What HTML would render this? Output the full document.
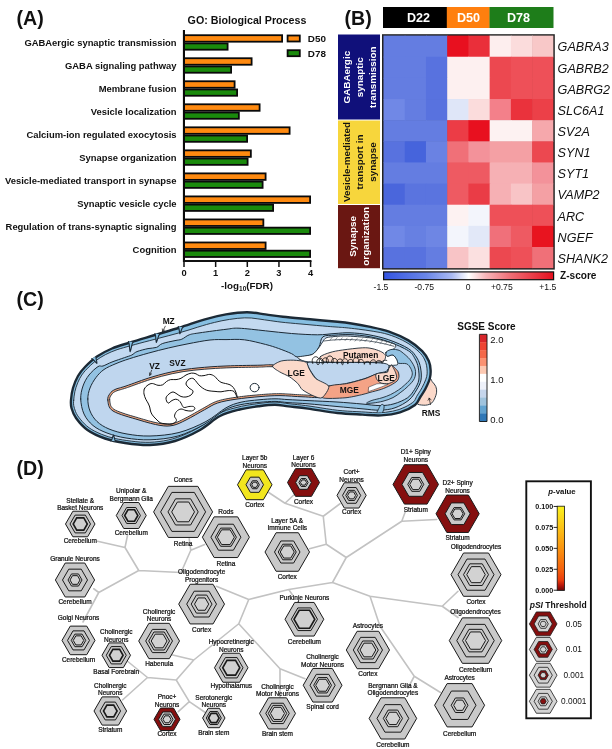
<!DOCTYPE html>
<html lang="en"><head><meta charset="utf-8"><title>Figure</title>
<style>html,body{margin:0;padding:0;background:#fff}svg{display:block}text{white-space:pre}</style>
</head><body>
<svg width="612" height="749" viewBox="0 0 612 749">
<rect width="612" height="749" fill="#fff"/>
<g id="panelA" font-family="'Liberation Sans', Arial, sans-serif" font-weight="bold" fill="#111">
<text x="16.6" y="25" font-size="19.6">(A)</text>
<text x="247" y="24.2" font-size="10.7" text-anchor="middle">GO: Biological Process</text>
<text x="176.5" y="45.9" font-size="9.42" text-anchor="end">GABAergic synaptic transmission</text>
<rect x="184" y="35.2" width="98.1" height="6.5" fill="#ff8a10" stroke="#0a0a0a" stroke-width="1.8"/>
<rect x="184" y="43.4" width="43.6" height="6.3" fill="#1a8a0c" stroke="#0a0a0a" stroke-width="1.8"/>
<text x="176.5" y="68.9" font-size="9.42" text-anchor="end">GABA signaling pathway</text>
<rect x="184" y="58.23" width="67.6" height="6.5" fill="#ff8a10" stroke="#0a0a0a" stroke-width="1.8"/>
<rect x="184" y="66.43" width="47.1" height="6.3" fill="#1a8a0c" stroke="#0a0a0a" stroke-width="1.8"/>
<text x="176.5" y="91.9" font-size="9.42" text-anchor="end">Membrane fusion</text>
<rect x="184" y="81.26" width="50.6" height="6.5" fill="#ff8a10" stroke="#0a0a0a" stroke-width="1.8"/>
<rect x="184" y="89.46" width="53.1" height="6.3" fill="#1a8a0c" stroke="#0a0a0a" stroke-width="1.8"/>
<text x="176.5" y="114.9" font-size="9.42" text-anchor="end">Vesicle localization</text>
<rect x="184" y="104.29" width="75.6" height="6.5" fill="#ff8a10" stroke="#0a0a0a" stroke-width="1.8"/>
<rect x="184" y="112.49" width="54.85" height="6.3" fill="#1a8a0c" stroke="#0a0a0a" stroke-width="1.8"/>
<text x="176.5" y="137.9" font-size="9.42" text-anchor="end">Calcium-ion regulated exocytosis</text>
<rect x="184" y="127.32" width="105.6" height="6.5" fill="#ff8a10" stroke="#0a0a0a" stroke-width="1.8"/>
<rect x="184" y="135.52" width="63.1" height="6.3" fill="#1a8a0c" stroke="#0a0a0a" stroke-width="1.8"/>
<text x="176.5" y="160.9" font-size="9.42" text-anchor="end">Synapse organization</text>
<rect x="184" y="150.35" width="66.85" height="6.5" fill="#ff8a10" stroke="#0a0a0a" stroke-width="1.8"/>
<rect x="184" y="158.55" width="63.6" height="6.3" fill="#1a8a0c" stroke="#0a0a0a" stroke-width="1.8"/>
<text x="176.5" y="183.9" font-size="9.42" text-anchor="end">Vesicle-mediated transport in synapse</text>
<rect x="184" y="173.38" width="81.6" height="6.5" fill="#ff8a10" stroke="#0a0a0a" stroke-width="1.8"/>
<rect x="184" y="181.58" width="78.6" height="6.3" fill="#1a8a0c" stroke="#0a0a0a" stroke-width="1.8"/>
<text x="176.5" y="206.9" font-size="9.42" text-anchor="end">Synaptic vesicle cycle</text>
<rect x="184" y="196.41" width="126.1" height="6.5" fill="#ff8a10" stroke="#0a0a0a" stroke-width="1.8"/>
<rect x="184" y="204.61" width="89.1" height="6.3" fill="#1a8a0c" stroke="#0a0a0a" stroke-width="1.8"/>
<text x="176.5" y="229.9" font-size="9.42" text-anchor="end">Regulation of trans-synaptic signaling</text>
<rect x="184" y="219.44" width="79.35" height="6.5" fill="#ff8a10" stroke="#0a0a0a" stroke-width="1.8"/>
<rect x="184" y="227.64" width="126.1" height="6.3" fill="#1a8a0c" stroke="#0a0a0a" stroke-width="1.8"/>
<text x="176.5" y="252.9" font-size="9.42" text-anchor="end">Cognition</text>
<rect x="184" y="242.47" width="81.6" height="6.5" fill="#ff8a10" stroke="#0a0a0a" stroke-width="1.8"/>
<rect x="184" y="250.67" width="126.1" height="6.3" fill="#1a8a0c" stroke="#0a0a0a" stroke-width="1.8"/>
<rect x="182.9" y="30" width="2.1" height="232" fill="#0a0a0a"/>
<rect x="183" y="260" width="128.5" height="2" fill="#111"/>
<rect x="183.25" y="261" width="1.5" height="6" fill="#111"/>
<text x="184" y="276.1" font-size="9.3" text-anchor="middle">0</text>
<rect x="214.9" y="261" width="1.5" height="6" fill="#111"/>
<text x="215.65" y="276.1" font-size="9.3" text-anchor="middle">1</text>
<rect x="246.55" y="261" width="1.5" height="6" fill="#111"/>
<text x="247.3" y="276.1" font-size="9.3" text-anchor="middle">2</text>
<rect x="278.2" y="261" width="1.5" height="6" fill="#111"/>
<text x="278.95" y="276.1" font-size="9.3" text-anchor="middle">3</text>
<rect x="309.85" y="261" width="1.5" height="6" fill="#111"/>
<text x="310.6" y="276.1" font-size="9.3" text-anchor="middle">4</text>
<text x="247" y="288.5" font-size="9.8" text-anchor="middle">-log<tspan font-size="6.5" dy="2">10</tspan><tspan dy="-2">(FDR)</tspan></text>
<rect x="287.6" y="35.5" width="12.2" height="6" fill="#ff8a10" stroke="#0a0a0a" stroke-width="1.8"/>
<rect x="287.6" y="50.2" width="12.2" height="6" fill="#1a8a0c" stroke="#0a0a0a" stroke-width="1.8"/>
<text x="307.8" y="42.1" font-size="9.9">D50</text>
<text x="307.8" y="56.8" font-size="9.9">D78</text>
</g>
<g id="panelB" font-family="'Liberation Sans', Arial, sans-serif">
<text x="344.6" y="25" font-size="19.6" font-weight="bold" fill="#111">(B)</text>
<rect x="383" y="7" width="64" height="21" fill="#000"/>
<rect x="446.8" y="7" width="43" height="21" fill="#ff7f0e"/>
<rect x="489.5" y="7" width="64" height="21" fill="#1e7d1a"/>
<text x="418.5" y="22.3" font-size="12.6" font-weight="bold" fill="#fff" text-anchor="middle">D22</text>
<text x="468.5" y="22.3" font-size="12.6" font-weight="bold" fill="#fff" text-anchor="middle">D50</text>
<text x="518.5" y="22.3" font-size="12.6" font-weight="bold" fill="#fff" text-anchor="middle">D78</text>
<rect x="382" y="34.2" width="172.8" height="235.4" fill="#222"/>
<rect x="383.5" y="35.6" width="21.83" height="21.74" fill="#647de1"/>
<rect x="404.73" y="35.6" width="21.83" height="21.74" fill="#647de1"/>
<rect x="425.96" y="35.6" width="21.83" height="21.74" fill="#647de1"/>
<rect x="447.19" y="35.6" width="21.83" height="21.74" fill="#e8101f"/>
<rect x="468.42" y="35.6" width="21.83" height="21.74" fill="#ea2f3a"/>
<rect x="489.65" y="35.6" width="21.83" height="21.74" fill="#fdeeee"/>
<rect x="510.88" y="35.6" width="21.83" height="21.74" fill="#fbdcdc"/>
<rect x="532.11" y="35.6" width="21.23" height="21.74" fill="#f8c8c8"/>
<rect x="383.5" y="56.74" width="21.83" height="21.74" fill="#647de1"/>
<rect x="404.73" y="56.74" width="21.83" height="21.74" fill="#647de1"/>
<rect x="425.96" y="56.74" width="21.83" height="21.74" fill="#5872df"/>
<rect x="447.19" y="56.74" width="21.83" height="21.74" fill="#fdf0f0"/>
<rect x="468.42" y="56.74" width="21.83" height="21.74" fill="#fdf0f0"/>
<rect x="489.65" y="56.74" width="21.83" height="21.74" fill="#ec4850"/>
<rect x="510.88" y="56.74" width="21.83" height="21.74" fill="#ee5058"/>
<rect x="532.11" y="56.74" width="21.23" height="21.74" fill="#ee5058"/>
<rect x="383.5" y="77.88" width="21.83" height="21.74" fill="#647de1"/>
<rect x="404.73" y="77.88" width="21.83" height="21.74" fill="#647de1"/>
<rect x="425.96" y="77.88" width="21.83" height="21.74" fill="#5872df"/>
<rect x="447.19" y="77.88" width="21.83" height="21.74" fill="#fdf0f0"/>
<rect x="468.42" y="77.88" width="21.83" height="21.74" fill="#fdf0f0"/>
<rect x="489.65" y="77.88" width="21.83" height="21.74" fill="#ec4850"/>
<rect x="510.88" y="77.88" width="21.83" height="21.74" fill="#ee5058"/>
<rect x="532.11" y="77.88" width="21.23" height="21.74" fill="#ee5058"/>
<rect x="383.5" y="99.02" width="21.83" height="21.74" fill="#7088e6"/>
<rect x="404.73" y="99.02" width="21.83" height="21.74" fill="#647de1"/>
<rect x="425.96" y="99.02" width="21.83" height="21.74" fill="#5872df"/>
<rect x="447.19" y="99.02" width="21.83" height="21.74" fill="#dfe6f8"/>
<rect x="468.42" y="99.02" width="21.83" height="21.74" fill="#fbdcdc"/>
<rect x="489.65" y="99.02" width="21.83" height="21.74" fill="#f3808a"/>
<rect x="510.88" y="99.02" width="21.83" height="21.74" fill="#ea323c"/>
<rect x="532.11" y="99.02" width="21.23" height="21.74" fill="#ec4048"/>
<rect x="383.5" y="120.16" width="21.83" height="21.74" fill="#647de1"/>
<rect x="404.73" y="120.16" width="21.83" height="21.74" fill="#647de1"/>
<rect x="425.96" y="120.16" width="21.83" height="21.74" fill="#647de1"/>
<rect x="447.19" y="120.16" width="21.83" height="21.74" fill="#ec3c46"/>
<rect x="468.42" y="120.16" width="21.83" height="21.74" fill="#e8101f"/>
<rect x="489.65" y="120.16" width="21.83" height="21.74" fill="#fdf2f2"/>
<rect x="510.88" y="120.16" width="21.83" height="21.74" fill="#fdf2f2"/>
<rect x="532.11" y="120.16" width="21.23" height="21.74" fill="#f6a8ac"/>
<rect x="383.5" y="141.3" width="21.83" height="21.74" fill="#5872df"/>
<rect x="404.73" y="141.3" width="21.83" height="21.74" fill="#4664dc"/>
<rect x="425.96" y="141.3" width="21.83" height="21.74" fill="#6a82e3"/>
<rect x="447.19" y="141.3" width="21.83" height="21.74" fill="#f07078"/>
<rect x="468.42" y="141.3" width="21.83" height="21.74" fill="#f3929a"/>
<rect x="489.65" y="141.3" width="21.83" height="21.74" fill="#f4a0a4"/>
<rect x="510.88" y="141.3" width="21.83" height="21.74" fill="#f4a0a4"/>
<rect x="532.11" y="141.3" width="21.23" height="21.74" fill="#ec4850"/>
<rect x="383.5" y="162.44" width="21.83" height="21.74" fill="#647de1"/>
<rect x="404.73" y="162.44" width="21.83" height="21.74" fill="#647de1"/>
<rect x="425.96" y="162.44" width="21.83" height="21.74" fill="#647de1"/>
<rect x="447.19" y="162.44" width="21.83" height="21.74" fill="#ee5a62"/>
<rect x="468.42" y="162.44" width="21.83" height="21.74" fill="#ee5a62"/>
<rect x="489.65" y="162.44" width="21.83" height="21.74" fill="#f6b0b4"/>
<rect x="510.88" y="162.44" width="21.83" height="21.74" fill="#f6b0b4"/>
<rect x="532.11" y="162.44" width="21.23" height="21.74" fill="#f3929a"/>
<rect x="383.5" y="183.58" width="21.83" height="21.74" fill="#4a66dc"/>
<rect x="404.73" y="183.58" width="21.83" height="21.74" fill="#5a74df"/>
<rect x="425.96" y="183.58" width="21.83" height="21.74" fill="#5a74df"/>
<rect x="447.19" y="183.58" width="21.83" height="21.74" fill="#ee5a62"/>
<rect x="468.42" y="183.58" width="21.83" height="21.74" fill="#ea3c46"/>
<rect x="489.65" y="183.58" width="21.83" height="21.74" fill="#f6b0b4"/>
<rect x="510.88" y="183.58" width="21.83" height="21.74" fill="#f8c4c6"/>
<rect x="532.11" y="183.58" width="21.23" height="21.74" fill="#f4a0a4"/>
<rect x="383.5" y="204.72" width="21.83" height="21.74" fill="#647de1"/>
<rect x="404.73" y="204.72" width="21.83" height="21.74" fill="#647de1"/>
<rect x="425.96" y="204.72" width="21.83" height="21.74" fill="#647de1"/>
<rect x="447.19" y="204.72" width="21.83" height="21.74" fill="#fdf2f2"/>
<rect x="468.42" y="204.72" width="21.83" height="21.74" fill="#f3f5fc"/>
<rect x="489.65" y="204.72" width="21.83" height="21.74" fill="#ee5058"/>
<rect x="510.88" y="204.72" width="21.83" height="21.74" fill="#ee5058"/>
<rect x="532.11" y="204.72" width="21.23" height="21.74" fill="#ee5058"/>
<rect x="383.5" y="225.86" width="21.83" height="21.74" fill="#7088e6"/>
<rect x="404.73" y="225.86" width="21.83" height="21.74" fill="#6780e2"/>
<rect x="425.96" y="225.86" width="21.83" height="21.74" fill="#6e86e4"/>
<rect x="447.19" y="225.86" width="21.83" height="21.74" fill="#f3f5fc"/>
<rect x="468.42" y="225.86" width="21.83" height="21.74" fill="#e2e8f8"/>
<rect x="489.65" y="225.86" width="21.83" height="21.74" fill="#f0707a"/>
<rect x="510.88" y="225.86" width="21.83" height="21.74" fill="#ee5a62"/>
<rect x="532.11" y="225.86" width="21.23" height="21.74" fill="#e8141f"/>
<rect x="383.5" y="247" width="21.83" height="21.14" fill="#5872df"/>
<rect x="404.73" y="247" width="21.83" height="21.14" fill="#5872df"/>
<rect x="425.96" y="247" width="21.83" height="21.14" fill="#647de1"/>
<rect x="447.19" y="247" width="21.83" height="21.14" fill="#f8c4c6"/>
<rect x="468.42" y="247" width="21.83" height="21.14" fill="#fbe0e0"/>
<rect x="489.65" y="247" width="21.83" height="21.14" fill="#ec4850"/>
<rect x="510.88" y="247" width="21.83" height="21.14" fill="#ee5058"/>
<rect x="532.11" y="247" width="21.23" height="21.14" fill="#f07078"/>
<text x="557.6" y="51.47" font-size="12.6" font-style="italic" fill="#111">GABRA3</text>
<text x="557.6" y="72.61" font-size="12.6" font-style="italic" fill="#111">GABRB2</text>
<text x="557.6" y="93.75" font-size="12.6" font-style="italic" fill="#111">GABRG2</text>
<text x="557.6" y="114.89" font-size="12.6" font-style="italic" fill="#111">SLC6A1</text>
<text x="557.6" y="136.03" font-size="12.6" font-style="italic" fill="#111">SV2A</text>
<text x="557.6" y="157.17" font-size="12.6" font-style="italic" fill="#111">SYN1</text>
<text x="557.6" y="178.31" font-size="12.6" font-style="italic" fill="#111">SYT1</text>
<text x="557.6" y="199.45" font-size="12.6" font-style="italic" fill="#111">VAMP2</text>
<text x="557.6" y="220.59" font-size="12.6" font-style="italic" fill="#111">ARC</text>
<text x="557.6" y="241.73" font-size="12.6" font-style="italic" fill="#111">NGEF</text>
<text x="557.6" y="262.87" font-size="12.6" font-style="italic" fill="#111">SHANK2</text>
<rect x="338" y="34.5" width="42" height="85" fill="#10107a"/>
<rect x="338" y="120.5" width="42" height="83.5" fill="#f7d63c"/>
<rect x="338" y="205" width="42" height="63.2" fill="#6a1712"/>
<g transform="translate(359.5,77.2) rotate(-90)" font-size="9.9" font-weight="bold" fill="#fff" text-anchor="middle"><text x="0" y="-9.63">GABAergic</text><text x="0" y="3.37">synaptic</text><text x="0" y="16.37">transmission</text></g>
<g transform="translate(359.5,162) rotate(-90)" font-size="9.9" font-weight="bold" fill="#111" text-anchor="middle"><text x="0" y="-9.63">Vesicle-mediated</text><text x="0" y="3.37">transport in</text><text x="0" y="16.37">synapse</text></g>
<g transform="translate(359.5,236.4) rotate(-90)" font-size="9.9" font-weight="bold" fill="#fff" text-anchor="middle"><text x="0" y="-3.13">Synapse</text><text x="0" y="9.87">organization</text></g>
<defs><linearGradient id="zg" x1="0" x2="1" y1="0" y2="0"><stop offset="0" stop-color="#3454e0"/><stop offset="0.25" stop-color="#6a86e8"/><stop offset="0.4" stop-color="#a9b9f2"/><stop offset="0.5" stop-color="#ffffff"/><stop offset="0.6" stop-color="#f7b6ba"/><stop offset="0.75" stop-color="#ef6c74"/><stop offset="1" stop-color="#e50f1e"/></linearGradient></defs>
<rect x="383.6" y="271.9" width="170" height="7.8" fill="url(#zg)" stroke="#111" stroke-width="1.2"/>
<text x="560" y="278.6" font-size="10.1" font-weight="bold" fill="#111">Z-score</text>
<text x="381" y="290" font-size="8.6" fill="#111" text-anchor="middle">-1.5</text>
<text x="424.3" y="290" font-size="8.6" fill="#111" text-anchor="middle">-0.75</text>
<text x="468.2" y="290" font-size="8.6" fill="#111" text-anchor="middle">0</text>
<text x="501.8" y="290" font-size="8.6" fill="#111" text-anchor="middle">+0.75</text>
<text x="547.8" y="290" font-size="8.6" fill="#111" text-anchor="middle">+1.5</text>
</g>
<g id="panelC" font-family="'Liberation Sans', Arial, sans-serif" stroke-linejoin="round" stroke-linecap="round">
<text x="16.6" y="305.8" font-size="19.6" font-weight="bold" fill="#111">(C)</text>
<path d="M429.3,379.4C431.2,377.22 431.32,380.72 432.4,381.9C433.48,383.08 435.1,384.78 435.8,386.5C436.5,388.22 436.83,390.1 436.6,392.2C436.37,394.3 435.4,397.17 434.4,399.1C433.4,401.03 432.37,402.78 430.6,403.8C428.83,404.82 426.15,405.32 423.8,405.2C421.45,405.08 416.97,404.8 416.5,403.1C416.03,401.4 418.87,398.95 421,395C423.13,391.05 427.4,381.58 429.3,379.4Z" fill="#fbd9ca" stroke="#1c2a36" stroke-width="0.9"/>
<path d="M71,400C71.25,396.67 71.83,392 73,388C74.17,384 76,379.5 78,376C80,372.5 81.83,370.25 85,367C88.17,363.75 92.5,359.58 97,356.5C101.5,353.42 106.5,350.83 112,348.5C117.5,346.17 122.83,344.75 130,342.5C137.17,340.25 146.67,337.5 155,335C163.33,332.5 171.67,330.12 180,327.5C188.33,324.88 197.33,321.48 205,319.3C212.67,317.12 219,315.57 226,314.4C233,313.23 240.43,312.3 247,312.3C253.57,312.3 259.4,313.65 265.4,314.4C271.4,315.15 275.57,315.98 283,316.8C290.43,317.62 300.92,318.47 310,319.3C319.08,320.13 330.83,321.13 337.5,321.8C344.17,322.47 344.75,322.48 350,323.3C355.25,324.12 362.5,325.32 369,326.7C375.5,328.08 382.43,329.32 389,331.6C395.57,333.88 402.87,337.13 408.4,340.4C413.93,343.67 418.8,347.77 422.2,351.2C425.6,354.63 427.4,357.87 428.8,361C430.2,364.13 430.43,367.08 430.6,370C430.77,372.92 430.68,375.33 429.8,378.5C428.92,381.67 426.88,385.92 425.3,389C423.72,392.08 422.02,394.33 420.3,397C418.58,399.67 418.38,402.43 415,405C411.62,407.57 405.67,410.67 400,412.4C394.33,414.13 387.25,415.03 381,415.4C374.75,415.77 369.75,415 362.5,414.6C355.25,414.2 346.58,414 337.5,413C328.42,412 316.15,409.7 308,408.6C299.85,407.5 294.1,407.03 288.6,406.4C283.1,405.77 279.93,404.83 275,404.8C270.07,404.77 264.9,405.42 259,406.2C253.1,406.98 246.1,407.87 239.6,409.5C233.1,411.13 226.6,412.58 220,416C213.4,419.42 207.5,425.83 200,430C192.5,434.17 183.33,438.5 175,441C166.67,443.5 158.33,444.67 150,445C141.67,445.33 132.5,444.08 125,443C117.5,441.92 111.25,440.67 105,438.5C98.75,436.33 92.33,433.42 87.5,430C82.67,426.58 78.67,421.67 76,418C73.33,414.33 72.33,411 71.5,408C70.67,405 70.75,403.33 71,400Z" fill="#86bfe2" stroke="#1c2a36" stroke-width="2.4"/>
<path d="M73.69,400.22C73.79,399.04 73.91,397.58 74.11,396.15C74.31,394.73 74.55,393.14 74.87,391.66C75.19,390.19 75.57,388.77 76.04,387.31C76.51,385.84 77.08,384.3 77.68,382.85C78.28,381.4 78.97,379.9 79.65,378.61C80.33,377.31 81.02,376.16 81.74,375.07C82.46,373.99 83.12,373.12 83.99,372.09C84.85,371.06 85.79,370.06 86.94,368.88C88.08,367.71 89.44,366.34 90.84,365.04C92.25,363.74 93.8,362.33 95.36,361.09C96.91,359.86 98.5,358.72 100.18,357.64C101.85,356.57 103.59,355.59 105.41,354.64C107.23,353.7 109.16,352.8 111.11,351.96C113.06,351.13 115.05,350.36 117.12,349.65C119.19,348.94 121.21,348.38 123.52,347.71C125.83,347.04 128.24,346.38 130.96,345.63C133.69,344.88 136.76,344.03 139.88,343.2C143,342.36 146.45,341.48 149.69,340.63C152.93,339.78 156.14,338.93 159.32,338.1C162.51,337.27 165.63,336.47 168.79,335.64C171.95,334.8 175.11,333.98 178.3,333.09C181.5,332.19 184.75,331.24 187.96,330.26C191.17,329.28 194.5,328.16 197.59,327.2C200.69,326.25 203.71,325.32 206.53,324.53C209.34,323.73 211.93,323.06 214.5,322.43C217.07,321.8 219.44,321.25 221.93,320.74C224.43,320.24 226.93,319.8 229.48,319.41C232.03,319.02 234.71,318.64 237.24,318.38C239.77,318.12 242.31,317.9 244.66,317.84C247.01,317.78 249.15,317.84 251.35,318C253.56,318.17 255.66,318.54 257.87,318.85C260.09,319.15 262.47,319.54 264.64,319.85C266.8,320.16 268.75,320.42 270.85,320.72C272.95,321.01 274.82,321.33 277.24,321.64C279.66,321.95 282.34,322.27 285.36,322.58C288.38,322.89 291.94,323.21 295.39,323.52C298.84,323.84 302.49,324.15 306.05,324.46C309.6,324.78 313.08,325.1 316.7,325.43C320.32,325.75 324.39,326.12 327.77,326.4C331.15,326.68 334.54,326.91 336.99,327.09C339.43,327.27 340.94,327.35 342.45,327.46C343.96,327.57 344.6,327.61 346.07,327.76C347.55,327.9 349.27,328.09 351.31,328.32C353.34,328.55 355.86,328.83 358.27,329.13C360.67,329.43 363.26,329.77 365.75,330.13C368.23,330.49 370.7,330.88 373.19,331.29C375.68,331.7 378.22,332.07 380.7,332.59C383.17,333.12 385.57,333.68 388.03,334.43C390.5,335.18 393.03,336.1 395.47,337.09C397.92,338.08 400.47,339.23 402.73,340.37C404.98,341.51 407.03,342.69 408.98,343.93C410.93,345.18 412.76,346.53 414.42,347.85C416.08,349.17 417.67,350.58 418.97,351.86C420.28,353.14 421.35,354.35 422.25,355.54C423.14,356.72 423.75,357.86 424.33,358.99C424.92,360.12 425.39,361.25 425.76,362.29C426.12,363.34 426.34,364.27 426.54,365.25C426.74,366.22 426.86,367.16 426.96,368.15C427.06,369.14 427.13,370.22 427.15,371.17C427.18,372.12 427.18,372.97 427.11,373.86C427.03,374.76 426.93,375.55 426.69,376.55C426.45,377.54 426.12,378.62 425.67,379.81C425.22,381 424.59,382.43 424.01,383.69C423.43,384.95 422.79,386.26 422.2,387.37C421.62,388.48 421.09,389.38 420.51,390.34C419.92,391.3 419.32,392.13 418.68,393.13C418.04,394.13 417.24,395.3 416.67,396.35C416.1,397.39 415.73,398.51 415.25,399.38C414.76,400.25 414.58,400.77 413.76,401.57C412.93,402.36 411.76,403.22 410.3,404.14C408.84,405.05 406.89,406.16 405.02,407.06C403.16,407.95 401.18,408.81 399.11,409.5C397.05,410.19 394.9,410.73 392.63,411.2C390.37,411.66 387.86,412.03 385.53,412.3C383.2,412.56 380.86,412.74 378.66,412.79C376.45,412.84 374.51,412.71 372.29,412.59C370.06,412.47 367.85,412.23 365.3,412.07C362.74,411.91 359.88,411.78 356.94,411.63C354.01,411.47 350.86,411.36 347.67,411.15C344.48,410.93 341.29,410.71 337.8,410.32C334.31,409.92 330.5,409.35 326.73,408.79C322.96,408.23 318.74,407.48 315.18,406.94C311.63,406.4 308.33,405.92 305.4,405.54C302.46,405.15 300,404.91 297.6,404.64C295.19,404.38 293.04,404.19 290.98,403.95C288.92,403.71 287.01,403.46 285.24,403.22C283.47,402.97 282.05,402.66 280.34,402.47C278.64,402.29 276.9,402.12 275.03,402.1C273.16,402.08 271.13,402.19 269.12,402.33C267.11,402.47 265.1,402.72 262.97,402.97C260.85,403.21 258.69,403.51 256.38,403.82C254.06,404.14 251.58,404.46 249.09,404.87C246.61,405.28 243.99,405.74 241.48,406.28C238.97,406.83 236.53,407.44 234.03,408.11C231.54,408.79 229.05,409.41 226.5,410.32C223.94,411.24 221.28,412.23 218.72,413.62C216.16,415.01 213.62,416.89 211.13,418.67C208.65,420.45 206.36,422.57 203.81,424.33C201.26,426.08 198.69,427.63 195.84,429.19C192.99,430.74 189.8,432.29 186.71,433.66C183.62,435.03 180.38,436.37 177.28,437.43C174.19,438.48 171.2,439.31 168.16,440C165.12,440.69 162.08,441.18 159.04,441.57C156,441.95 152.99,442.21 149.92,442.3C146.84,442.39 143.7,442.3 140.59,442.11C137.47,441.91 134.22,441.5 131.24,441.14C128.25,440.77 125.36,440.35 122.67,439.92C119.98,439.48 117.53,439.06 115.11,438.52C112.69,437.98 110.45,437.41 108.15,436.69C105.85,435.98 103.56,435.15 101.33,434.24C99.1,433.33 96.81,432.3 94.76,431.23C92.72,430.15 90.81,429.05 89.07,427.8C87.33,426.56 85.8,425.18 84.34,423.75C82.89,422.33 81.5,420.67 80.34,419.24C79.18,417.82 78.15,416.45 77.35,415.19C76.56,413.94 76.04,412.84 75.55,411.7C75.06,410.56 74.72,409.41 74.41,408.37C74.1,407.34 73.84,406.36 73.7,405.5C73.55,404.64 73.53,404.09 73.53,403.21C73.53,402.33 73.59,401.39 73.69,400.22Z" fill="#c3d9f0" stroke="#1c2a36" stroke-width="0.9"/>
<path d="M80.7,399C80.53,394.33 81.62,390 83,386C84.38,382 86.5,378.23 89,375C91.5,371.77 95.67,368.1 98,366.6C100.33,365.1 100.67,366.77 103,366C105.33,365.23 108.4,363.4 112,362C115.6,360.6 121.3,358.77 124.6,357.6C127.9,356.43 129.73,356 131.8,355C133.87,354 134.3,352.67 137,351.6C139.7,350.53 144.75,349.3 148,348.6C151.25,347.9 154.12,348.23 156.5,347.4C158.88,346.57 159.22,344.73 162.3,343.6C165.38,342.47 171.75,341.33 175,340.6C178.25,339.87 179.42,340.17 181.8,339.2C184.18,338.23 186.27,335.87 189.3,334.8C192.33,333.73 193.88,333.72 200,332.8C206.12,331.88 219.5,330.07 226,329.3C232.5,328.53 232.43,327.95 239,328.2C245.57,328.45 256.65,329.92 265.4,330.8C274.15,331.68 282.8,332.83 291.5,333.5C300.2,334.17 310.35,334.8 317.6,334.8C324.85,334.8 329.6,333.83 335,333.5C340.4,333.17 344.33,332.58 350,332.8C355.67,333.02 362.53,333.63 369,334.8C375.47,335.97 382.23,337.5 388.8,339.8C395.37,342.1 403.7,345.57 408.4,348.6C413.1,351.63 414.97,354.77 417,358C419.03,361.23 419.93,364.33 420.6,368C421.27,371.67 421.68,376.33 421,380C420.32,383.67 418.5,386.67 416.5,390C414.5,393.33 412.58,397.03 409,400C405.42,402.97 399.83,406.1 395,407.8C390.17,409.5 385.5,410.03 380,410.2C374.5,410.37 369.17,409.42 362,408.8C354.83,408.18 346,407.33 337,406.5C328,405.67 316.17,404.45 308,403.8C299.83,403.15 293.5,403 288,402.6C282.5,402.2 279.83,401.43 275,401.4C270.17,401.37 264.83,401.83 259,402.4C253.17,402.97 245.83,403.45 240,404.8C234.17,406.15 230,407.22 224,410.5C218,413.78 211.67,420.25 204,424.5C196.33,428.75 187,433.45 178,436C169,438.55 158.67,439.47 150,439.8C141.33,440.13 133.17,439.13 126,438C118.83,436.87 112.5,435.08 107,433C101.5,430.92 96.83,428.67 93,425.5C89.17,422.33 86.05,418.42 84,414C81.95,409.58 80.87,403.67 80.7,399Z" fill="#93c2e2" stroke="#1c2a36" stroke-width="1"/>
<path d="M87.8,399C87.8,395.17 88.63,391.58 90,388C91.37,384.42 93.67,380.58 96,377.5C98.33,374.42 100.67,371.82 104,369.5C107.33,367.18 111.8,365.38 116,363.6C120.2,361.82 123.73,360.57 129.2,358.8C134.67,357.03 142.27,354.8 148.8,353C155.33,351.2 161.87,349.53 168.4,348C174.93,346.47 181.07,345.13 188,343.8C194.93,342.47 203.67,340.7 210,340C216.33,339.3 220.27,339.63 226,339.6C231.73,339.57 237.83,339 244.4,339.8C250.97,340.6 259.73,342.97 265.4,344.4C271.07,345.83 274.05,346.87 278.4,348.4C282.75,349.93 288.23,352.17 291.5,353.6C294.77,355.03 294.52,356.87 298,357C301.48,357.13 308.9,356.07 312.4,354.4C315.9,352.73 317.25,349.93 319,347C320.75,344.07 320.23,338.77 322.9,336.8C325.57,334.83 330.48,335.57 335,335.2C339.52,334.83 344.33,334.37 350,334.6C355.67,334.83 362.53,335.4 369,336.6C375.47,337.8 382.23,339.43 388.8,341.8C395.37,344.17 404.03,347.97 408.4,350.8C412.77,353.63 413.35,355.93 415,358.8C416.65,361.67 417.67,364.47 418.3,368C418.93,371.53 419.43,376.42 418.8,380C418.17,383.58 416.38,386.53 414.5,389.5C412.62,392.47 410.92,395.42 407.5,397.8C404.08,400.18 398.58,402.5 394,403.8C389.42,405.1 385.33,405.57 380,405.6C374.67,405.63 369.17,404.6 362,404C354.83,403.4 346,402.57 337,402C328,401.43 316.17,401 308,400.6C299.83,400.2 293.5,399.9 288,399.6C282.5,399.3 279.83,398.77 275,398.8C270.17,398.83 264.67,399.23 259,399.8C253.33,400.37 246.5,400.87 241,402.2C235.5,403.53 231.83,404.58 226,407.8C220.17,411.02 213.83,417.38 206,421.5C198.17,425.62 188.33,430.08 179,432.5C169.67,434.92 158.67,435.75 150,436C141.33,436.25 133.83,435.17 127,434C120.17,432.83 114,431.08 109,429C104,426.92 100.17,424.5 97,421.5C93.83,418.5 91.53,414.75 90,411C88.47,407.25 87.8,402.83 87.8,399Z" fill="#bfd6ee" stroke="#1c2a36" stroke-width="1"/>
<path d="M300,359.5C300.93,360.02 303.67,361.15 306,361.5C308.33,361.85 315.45,362.38 320,362.5C324.55,362.62 339.17,362.5 345,362.5C350.83,362.5 365.74,362.44 370,362.5C374.26,362.56 379.63,362.67 381.5,363C383.37,363.33 384.16,365.09 386,365.3C387.84,365.51 396.03,365.47 397.3,364.8C398.57,364.13 397.41,360.74 396.9,359.6C396.39,358.46 394.03,355.4 392.9,355C391.77,354.6 388,356.5 387.2,356.2C386.39,355.9 385.33,353.2 386,352.4C386.67,351.59 391.78,349.93 392.9,349.3C394.02,348.67 395.4,347.6 395.6,347C395.8,346.4 395.85,344.9 394.6,344.2C393.35,343.5 387.77,341.75 384.9,341C382.03,340.25 374.65,338.38 370,337.8C365.35,337.22 350.02,336.04 345,336C339.98,335.96 329.61,336.8 327,337.5C324.39,338.2 323.53,340.83 322.6,342C321.67,343.17 320.19,346.05 319,347.5C317.81,348.95 314.85,353.29 312.4,354.4C309.95,355.51 299.45,356.4 298,357C296.55,357.6 299.07,358.98 300,359.5Z" fill="#fff" stroke="#1c2a36" stroke-width="0.9"/>
<path d="M386,352.4C386.3,351.4 387.85,350.72 389,350.2C390.15,349.68 391.4,349.33 392.9,349.3C394.4,349.27 396.48,349.52 398,350C399.52,350.48 400,350.6 402,352.2C404,353.8 407.8,356.75 410,359.6C412.2,362.45 414.47,366.15 415.2,369.3C415.93,372.45 415.63,375.63 414.4,378.5C413.17,381.37 410.05,384.22 407.8,386.5C405.55,388.78 403.37,390.35 400.9,392.2C398.43,394.05 395.98,396.1 393,397.6C390.02,399.1 386.33,400.3 383,401.2C379.67,402.1 375.75,402.67 373,403C370.25,403.33 366.67,403.63 366.5,403.2C366.33,402.77 369.42,401.3 372,400.4C374.58,399.5 378.92,398.77 382,397.8C385.08,396.83 387.73,395.92 390.5,394.6C393.27,393.28 396.3,391.45 398.6,389.9C400.9,388.35 402.4,387.02 404.3,385.3C406.2,383.58 408.67,381.5 410,379.6C411.33,377.7 412.2,375.8 412.3,373.9C412.4,372 411.55,369.88 410.6,368.2C409.65,366.52 408.62,364.63 406.6,363.8C404.58,362.97 400.12,363.9 398.5,363.2C396.88,362.5 397.83,360.97 396.9,359.6C395.97,358.23 394.52,355.57 392.9,355C391.28,354.43 388.35,356.63 387.2,356.2C386.05,355.77 385.7,353.4 386,352.4Z" fill="#93c2e2" stroke="#1c2a36" stroke-width="0.9"/>
<path d="M324,341 C345,337.8 372,339.6 394,346.3" fill="none" stroke="#1c2a36" stroke-width="0.7"/>
<path d="M330,340l2.2,-2.6" stroke="#1c2a36" stroke-width="0.45" fill="none"/>
<path d="M335,340.23l2.2,-2.6" stroke="#1c2a36" stroke-width="0.45" fill="none"/>
<path d="M340,340.45l2.2,-2.6" stroke="#1c2a36" stroke-width="0.45" fill="none"/>
<path d="M345,340.68l2.2,-2.6" stroke="#1c2a36" stroke-width="0.45" fill="none"/>
<path d="M350,340.9l2.2,-2.6" stroke="#1c2a36" stroke-width="0.45" fill="none"/>
<path d="M355,341.12l2.2,-2.6" stroke="#1c2a36" stroke-width="0.45" fill="none"/>
<path d="M360,341.35l2.2,-2.6" stroke="#1c2a36" stroke-width="0.45" fill="none"/>
<path d="M365,341.57l2.2,-2.6" stroke="#1c2a36" stroke-width="0.45" fill="none"/>
<path d="M370,342.3l2.2,-2.6" stroke="#1c2a36" stroke-width="0.45" fill="none"/>
<path d="M375,343.02l2.2,-2.6" stroke="#1c2a36" stroke-width="0.45" fill="none"/>
<path d="M380,343.75l2.2,-2.6" stroke="#1c2a36" stroke-width="0.45" fill="none"/>
<path d="M385,344.48l2.2,-2.6" stroke="#1c2a36" stroke-width="0.45" fill="none"/>
<path d="M390,345.2l2.2,-2.6" stroke="#1c2a36" stroke-width="0.45" fill="none"/>
<path d="M320.5,356.5C322,355.25 326.33,353.58 330,352.5C333.67,351.42 337.08,350.78 342.5,350C347.92,349.22 357.58,348.03 362.5,347.8C367.42,347.57 369.03,348.02 372,348.6C374.97,349.18 378.15,350.32 380.3,351.3C382.45,352.28 384.05,353.4 384.9,354.5C385.75,355.6 385.8,356.77 385.4,357.9C385,359.03 385.07,360.57 382.5,361.3C379.93,362.03 376.25,362.13 370,362.3C363.75,362.47 352.17,362.35 345,362.3C337.83,362.25 331,362.38 327,362C323,361.62 322.08,360.92 321,360C319.92,359.08 319,357.75 320.5,356.5Z" fill="#fbd9ca" stroke="#1c2a36" stroke-width="0.9"/>
<path d="M107.8,400C107.3,397.08 108.8,395.25 110,393.5C111.2,391.75 112.33,390.75 115,389.5C117.67,388.25 119.83,388.08 126,386C132.17,383.92 143.27,379.58 152,377C160.73,374.42 169.63,372.12 178.4,370.5C187.17,368.88 195.88,368.08 204.6,367.3C213.32,366.52 221.47,366.15 230.7,365.8C239.93,365.45 253.45,365.37 260,365.2C266.55,365.03 265.83,364.67 270,364.8C274.17,364.93 280,364.8 285,366C290,367.2 295.5,369 300,372C304.5,375 308.33,379.92 312,384C315.67,388.08 323.5,394.37 322,396.5C320.5,398.63 310,396.95 303,396.8C296,396.65 287.17,395.63 280,395.6C272.83,395.57 267.33,396 260,396.6C252.67,397.2 243.07,398.13 236,399.2C228.93,400.27 222.83,401.25 217.6,403C212.37,404.75 209.87,406.87 204.6,409.7C199.33,412.53 191.27,417.38 186,420C180.73,422.62 177.33,424.5 173,425.4C168.67,426.3 165.67,426.3 160,425.4C154.33,424.5 146.83,422.4 139,420C131.17,417.6 118.2,414.33 113,411C107.8,407.67 108.3,402.92 107.8,400Z" fill="#f2a47c" stroke="#1c2a36" stroke-width="1"/>
<path d="M109.68,399.75C109.75,400.27 109.74,401.15 109.98,402.25C110.22,403.36 110.23,405.08 111.12,406.4C112.01,407.71 112.92,408.87 115.34,410.15C117.75,411.42 122.27,412.91 125.58,414.04C128.9,415.16 132.6,416.12 135.25,416.91C137.9,417.7 138.91,418.02 141.5,418.77C144.09,419.53 147.9,420.67 150.8,421.42C153.69,422.18 156.51,422.83 158.89,423.28C161.26,423.73 163.25,423.98 165.06,424.1C166.86,424.23 168.14,424.19 169.72,424.02C171.31,423.84 172.95,423.53 174.56,423.05C176.17,422.57 177.83,421.83 179.38,421.15C180.94,420.46 181.92,419.94 183.87,418.94C185.82,417.94 188.77,416.39 191.07,415.14C193.37,413.88 195.8,412.45 197.67,411.4C199.54,410.34 200.72,409.68 202.3,408.79C203.89,407.9 205.84,406.81 207.15,406.07C208.46,405.32 209.31,404.78 210.16,404.3C211.01,403.82 211.33,403.61 212.24,403.18C213.16,402.74 214.62,402.08 215.64,401.68C216.67,401.28 217.23,401.09 218.4,400.75C219.57,400.41 221.46,399.92 222.68,399.63C223.91,399.33 224.45,399.23 225.76,398.98C227.07,398.73 229.2,398.36 230.57,398.12C231.93,397.89 232.48,397.81 233.97,397.59C235.45,397.37 237.88,397.01 239.47,396.8C241.06,396.58 241.8,396.49 243.52,396.3C245.24,396.1 248.06,395.8 249.81,395.62C251.55,395.44 252.31,395.37 253.98,395.22C255.65,395.07 258.27,394.84 259.84,394.71C261.41,394.57 261.97,394.53 263.38,394.42C264.8,394.31 266.97,394.15 268.34,394.06C269.7,393.97 270.22,393.94 271.58,393.88C272.94,393.82 275.09,393.75 276.5,393.72C277.91,393.69 278.49,393.67 280.03,393.7C281.57,393.73 284.11,393.81 285.72,393.88C287.33,393.95 287.73,394 289.7,394.12C291.68,394.25 295.04,394.52 297.58,394.66C300.11,394.8 303.01,394.87 304.89,394.97C306.76,395.06 306.68,395.11 308.85,395.22C311.02,395.34 316.28,395.97 317.9,395.66C319.52,395.35 319.21,394.53 318.56,393.38C317.91,392.22 315.31,390.08 313.99,388.73C312.67,387.39 311.49,386.23 310.61,385.3C309.73,384.37 309.83,384.39 308.72,383.15C307.61,381.91 305.59,379.47 303.96,377.88C302.33,376.28 300.73,374.79 298.94,373.58C297.15,372.36 295.22,371.44 293.23,370.59C291.25,369.74 289.08,369.05 287.03,368.48C284.97,367.92 282.98,367.49 280.9,367.21C278.83,366.93 276.4,366.89 274.58,366.8C272.75,366.72 271.28,366.71 269.95,366.7C268.62,366.69 267.47,366.71 266.59,366.74C265.72,366.77 265.54,366.84 264.7,366.89C263.87,366.94 262.65,367.01 261.57,367.05C260.5,367.09 259.93,367.11 258.26,367.14C256.59,367.17 254.9,367.19 251.57,367.25C248.25,367.31 242.52,367.38 238.3,367.48C234.07,367.59 230.05,367.72 226.24,367.88C222.43,368.03 219.01,368.19 215.43,368.41C211.85,368.62 208.36,368.89 204.77,369.19C201.18,369.5 197.52,369.83 193.9,370.23C190.29,370.64 186.69,371.06 183.07,371.63C179.46,372.21 175.85,372.9 172.21,373.69C168.58,374.48 164.91,375.39 161.27,376.36C157.62,377.33 154.1,378.31 150.34,379.49C146.57,380.68 142.05,382.3 138.68,383.48C135.31,384.66 132.12,385.86 130.1,386.58C128.09,387.3 127.85,387.39 126.6,387.8C125.35,388.22 123.61,388.76 122.6,389.07C121.6,389.38 121.5,389.38 120.56,389.65C119.62,389.93 118.03,390.34 116.97,390.73C115.92,391.13 114.96,391.61 114.23,392.04C113.5,392.47 113.09,392.8 112.59,393.29C112.1,393.79 111.69,394.39 111.26,395.02C110.82,395.65 110.28,396.39 110,397.08C109.73,397.77 109.67,398.72 109.61,399.17C109.56,399.61 109.62,399.24 109.68,399.75Z" fill="#fff" stroke="#1c2a36" stroke-width="0.9"/>
<path d="M307.5,362.5C308.97,361.77 315,362.5 320,362.5C325,362.5 338.33,362.5 345,362.5C351.67,362.5 364.67,362.37 370,362.5C375.33,362.63 382.47,363.03 385,363.5C387.53,363.97 388.77,364.99 389,366C389.23,367.01 388.31,370.06 386.7,371.1C385.09,372.14 379.79,372.81 376.9,373.8C374.01,374.79 369.03,377.22 365,378.5C360.97,379.78 351.54,382.43 346.7,383.4C341.86,384.37 332.46,386.12 328.7,385.8C324.94,385.48 320.59,382.51 318.5,381C316.41,379.49 314.27,376.23 313,374.5C311.73,372.77 309.73,369.6 309,368C308.27,366.4 306.03,363.23 307.5,362.5Z" fill="#bfd6ee" stroke="#1c2a36" stroke-width="0.9"/>
<path d="M328.7,386.3C331.97,384.43 341.86,384.61 346.7,383.6C351.54,382.59 361.05,379.98 365,378.7C368.95,377.42 373.34,374.89 376.3,374C379.26,373.11 385.6,372.63 387.2,372C388.8,371.37 387.77,370.23 388.3,369.3C388.83,368.37 390.37,365.23 391.2,365C392.03,364.77 393.59,366.72 394.5,367.6C395.41,368.48 397.4,370.45 398,371.6C398.6,372.75 399.09,374.97 399,376.2C398.91,377.43 398.42,379.59 397.3,380.8C396.18,382.01 392.72,384.17 390.6,385.3C388.48,386.43 384.15,388.35 381.4,389.3C378.65,390.25 372.68,391.67 370,392.4C367.32,393.13 364.63,394.08 361.3,394.8C357.97,395.52 350.21,397.43 345,397.8C339.79,398.17 324.37,399.13 322.2,397.6C320.03,396.07 325.43,388.17 328.7,386.3Z" fill="#f4a386" stroke="#1c2a36" stroke-width="0.9"/>
<path d="M369,387L376.9,383.8L381.4,383.6L388.3,384.2L381.4,387L373.4,389.9L368.5,391.5Z" fill="#fff" stroke="#1c2a36" stroke-width="0.5"/>
<path d="M388.3,369.3C388.83,368.38 390.51,365.45 391.2,365.3C391.89,365.15 392.9,367.2 393.5,368.2C394.1,369.2 395.27,371.59 395.7,372.8C396.13,374.01 396.85,376.23 396.7,377.3C396.55,378.37 395.72,379.96 394.6,380.8C393.48,381.64 390.06,383.29 388.3,383.6C386.54,383.91 382.92,383.63 381.4,383.1C379.88,382.57 377.58,380.83 376.9,379.6C376.22,378.37 374.93,374.89 376.3,373.9C377.67,372.91 385.6,372.81 387.2,372.2C388.8,371.59 387.77,370.22 388.3,369.3Z" fill="#fbd9ca" stroke="#1c2a36" stroke-width="0.9"/>
<path d="M272.4,366.2C272.61,364.75 278.47,361.8 281.3,361C284.13,360.2 290.33,360.05 293.6,360.2C296.87,360.35 303.73,360.97 305.8,362.1C307.87,363.23 307.78,366.51 309.1,368.7C310.42,370.89 313.09,376.15 315.7,378.5C318.31,380.85 327.83,383.75 328.7,386.3C329.57,388.85 324.16,396.29 322.2,397.6C320.24,398.91 316.61,397.13 314,396.1C311.39,395.07 304.77,391.59 302.6,389.9C300.43,388.21 299.45,385.15 297.7,383.4C295.95,381.65 291.9,378.33 289.5,376.8C287.1,375.27 281.98,373.31 279.7,371.9C277.42,370.49 272.19,367.65 272.4,366.2Z" fill="#fbd9ca" stroke="#1c2a36" stroke-width="0.9"/>
<path d="M313,363.69L312.56,363.24L312.27,361.3L312.22,360.35L312.44,359.3L312.95,358.3L313.72,357.46L314.69,356.91L315.78,356.73L316.88,356.95L317.88,357.55L318.68,358.46L319.22,359.57L319.45,360.74L319.39,361.83L319.07,363.91L318.58,364.48L318.01,364.67L317.46,364.48L317.04,363.95L316.83,361.96L316.87,361.03L317.19,360.09L317.77,359.25L318.55,358.62L319.45,358.28L320.41,358.24L321.33,358.52L322.13,359.05L322.76,359.77L323.18,360.58L323.39,361.4L323.39,362.12L323.24,363.86L322.97,364.18L322.65,364.23L322.35,364.01L322.13,363.55L322.03,361.69L322.11,360.91L322.39,360.07L322.86,359.26L323.51,358.58L324.29,358.08L325.15,357.84L326.03,357.86L326.85,358.16L327.54,358.69L328.04,359.38L328.31,360.15L328.35,360.89L328.17,362.69L327.82,363.06L327.38,363.13L326.93,362.88L326.56,362.3L326.36,360.27L326.39,359.27L326.69,358.23L327.26,357.28L328.06,356.53L329.01,356.08L330.05,355.98L331.05,356.25L331.94,356.85L332.63,357.7L333.08,358.68L333.28,359.68L333.23,360.58L333,362.48L332.64,362.91L332.26,363.04L331.92,362.88L331.7,362.48L331.66,360.71L331.82,360.06L332.19,359.43L332.74,358.9L333.42,358.54L334.19,358.4L334.99,358.48L335.75,358.79L336.42,359.28L336.97,359.9L337.36,360.6L337.6,361.3L337.68,361.93L337.63,363.64L337.48,363.97L337.29,364.09L337.1,363.98L336.96,363.67L336.93,361.97L337.06,361.35L337.35,360.67L337.83,360.01L338.48,359.47L339.26,359.11L340.12,358.99L340.98,359.13L341.78,359.53L342.44,360.15L342.92,360.91L343.17,361.72L343.2,362.47L343.04,364.27L342.73,364.62L342.36,364.68L342.01,364.44L341.77,363.92L341.69,361.99L341.84,361.15L342.22,360.3L342.82,359.56L343.59,359.01L344.46,358.73L345.37,358.74L346.22,359.02L346.96,359.53L347.52,360.18L347.9,360.91L348.08,361.6L348.11,362.17L348.01,363.77L347.85,363.96L347.68,363.93L347.57,363.7L347.54,363.31L347.65,361.61L347.88,361.07L348.26,360.53L348.75,360.06L349.34,359.7L349.99,359.48L350.66,359.42L351.31,359.5L351.91,359.73L352.42,360.07L352.82,360.47L353.09,360.9L353.23,362.49L353.26,362.8L353.2,362.97L353.08,362.96L352.96,362.76L352.89,362.37L352.92,360.62L353.09,359.97L353.43,359.28L353.94,358.64L354.61,358.12L355.39,357.81L356.22,357.73L357.05,357.92L357.8,358.34L358.4,358.96L358.83,359.69L359.06,360.45L359.1,362.32L358.99,362.85L358.79,363.16L358.57,363.23L358.39,363.06L358.32,362.7L358.4,361.02L358.66,360.49L359.09,360L359.67,359.63L360.35,359.43L361.08,359.42L361.81,359.61L362.48,359.98L363.05,360.47L363.51,361.03L363.85,361.6L364.07,362.13L364.2,363.77L364.27,364.09L364.31,364.28L364.36,364.34L364.43,364.28L364.56,364.11L364.77,362.67L365.05,362.39L365.41,362.09L365.85,361.82L366.37,361.6L366.93,361.46L367.53,361.42L368.12,361.5L368.69,361.68L369.19,361.96L369.6,362.31L369.9,362.68L370.09,364.23L370.17,364.49L370.17,364.63L370.12,364.6L370.08,364.39L370.08,364.01L370.19,362.28L370.43,361.68L370.82,361.06L371.36,360.5L372.03,360.08L372.77,359.83L373.53,359.79L374.27,359.96L374.91,360.3L375.43,360.76L375.8,361.27L376.03,361.76L376.13,363.35L376.14,363.61L376.12,363.7L376.11,363.62L376.15,363.4L376.29,363.08L376.53,361.51L376.88,361.15L377.32,360.83L377.83,360.61L378.37,360.48L378.93,360.46L379.46,360.54L379.96,360.68L380.4,360.86L380.79,361.07L381.13,361.27L381.43,361.44L381.69,362.78L381.92,362.87L382.14,362.91L382.35,362.89L382.57,362.82L382.81,362.69L383.07,361.32L383.38,361.11L383.73,360.88L384.15,360.65L384.62,360.45L385.14,360.32L385.7,360.27L386.26,360.33L386.81,360.5" fill="none" stroke="#111" stroke-width="0.85"/>
<path d="M144.4,388.8C145.07,387.3 146.68,385.88 148,385C149.32,384.12 150.63,383.45 152.3,383.5C153.97,383.55 156.27,385.08 158,385.3C159.73,385.52 161.28,385.43 162.7,384.8C164.12,384.17 165.18,382.37 166.5,381.5C167.82,380.63 169.02,379.92 170.6,379.6C172.18,379.28 174.27,379.82 176,379.6C177.73,379.38 179.33,379.07 181,378.3C182.67,377.53 184.25,375.87 186,375C187.75,374.13 189.83,373.3 191.5,373.1C193.17,372.9 194.7,373.37 196,373.8C197.3,374.23 197.97,375.4 199.3,375.7C200.63,376 202.25,375.82 204,375.6C205.75,375.38 208.05,374.3 209.8,374.4C211.55,374.5 213.2,375.33 214.5,376.2C215.8,377.07 216.52,378.58 217.6,379.6C218.68,380.62 219.68,381.65 221,382.3C222.32,382.95 224,383.08 225.5,383.5C227,383.92 228.7,384.13 230,384.8C231.3,385.47 232.33,386.3 233.3,387.5C234.27,388.7 235.13,390.32 235.8,392C236.47,393.68 237.6,397.68 237.3,397.6C237,397.52 235.53,392.67 234,391.5C232.47,390.33 230.27,390.55 228.1,390.6C225.93,390.65 223.18,391.67 221,391.8C218.82,391.93 217,391.57 215,391.4C213,391.23 210.73,391.15 209,390.8C207.27,390.45 206.1,390.1 204.6,389.3C203.1,388.5 201.32,387.18 200,386C198.68,384.82 197.7,383.37 196.7,382.2C195.7,381.03 194.87,379.65 194,379C193.13,378.35 192.5,378.13 191.5,378.3C190.5,378.47 188.92,379.05 188,380C187.08,380.95 185.83,382.67 186,384C186.17,385.33 187.83,386.83 189,388C190.17,389.17 192.67,389.83 193,391C193.33,392.17 192.17,394 191,395C189.83,396 187.67,396.75 186,397C184.33,397.25 182.5,397 181,396.5C179.5,396 178.33,394.75 177,394C175.67,393.25 174.33,392 173,392C171.67,392 170.17,393 169,394C167.83,395 166.17,396.48 166,398C165.83,399.52 167,402.68 168,403.1C169,403.52 170.7,401.15 172,400.5C173.3,399.85 174.63,399.2 175.8,399.2C176.97,399.2 178.13,399.85 179,400.5C179.87,401.15 180.22,401.95 181,403.1C181.78,404.25 182.38,406.83 183.7,407.4C185.02,407.97 187.27,406.63 188.9,406.5C190.53,406.37 192.52,406.18 193.5,406.6C194.48,407.02 195.13,408.27 194.8,409C194.47,409.73 192.97,410.75 191.5,411C190.03,411.25 187.75,410.83 186,410.5C184.25,410.17 182.58,408.83 181,409C179.42,409.17 177.58,410.3 176.5,411.5C175.42,412.7 174.53,414.87 174.5,416.2C174.47,417.53 176.08,418.57 176.3,419.5C176.52,420.43 176.52,421.05 175.8,421.8C175.08,422.55 173.3,423.63 172,424C170.7,424.37 169.33,424.07 168,424C166.67,423.93 165.32,423.82 164,423.6C162.68,423.38 161.43,423.47 160.1,422.7C158.77,421.93 157.3,420.3 156,419C154.7,417.7 153.22,416.23 152.3,414.9C151.38,413.57 150.93,412.32 150.5,411C150.07,409.68 150.12,408.33 149.7,407C149.28,405.67 148.65,404.3 148,403C147.35,401.7 146.47,400.7 145.8,399.2C145.13,397.7 144.23,395.73 144,394C143.77,392.27 143.73,390.3 144.4,388.8Z" fill="none" stroke="#111" stroke-width="1"/>
<ellipse cx="254.6" cy="387.6" rx="4.5" ry="4.2" fill="#fff" stroke="#1c2a36" stroke-width="1"/>
<path d="M178.10000000000002,326.79999999999995c1.2,0.8 1.4,4.2 2.6,7c1.4,-2.45 0.6,-5.6 2.2,-7" transform="rotate(8 180.3 327.4)" fill="#86bfe2" stroke="#1c2a36" stroke-width="1.1"/>
<path d="M154.8,333.9c1.2,0.8 1.4,5.1 2.6,8.5c1.4,-2.97 0.6,-6.8 2.2,-8.5" transform="rotate(8 157 334.5)" fill="#86bfe2" stroke="#1c2a36" stroke-width="1.1"/>
<path d="M128.3,341.7c1.2,0.8 1.4,6 2.6,10c1.4,-3.5 0.6,-8 2.2,-10" transform="rotate(5 130.5 342.3)" fill="#86bfe2" stroke="#1c2a36" stroke-width="1.1"/>
<path d="M91.8,357.59999999999997c1.2,0.8 1.4,3.9 2.6,6.5c1.4,-2.27 0.6,-5.2 2.2,-6.5" transform="rotate(-25 94 358.2)" fill="#86bfe2" stroke="#1c2a36" stroke-width="1.1"/>
<path d="M111.3,439.9c1.2,0.8 1.4,3.6 2.6,6c1.4,-2.1 0.6,-4.8 2.2,-6" transform="rotate(185 113.5 440.5)" fill="#86bfe2" stroke="#1c2a36" stroke-width="1.1"/>
<path d="M377,412c2,-3 2.6,-7 5.2,-7.6c2.6,0 2.4,3.4 0.4,8.2" fill="#93c2e2" stroke="#1c2a36" stroke-width="0.9"/>
<text x="168.7" y="324.3" font-size="8.4" font-weight="bold" fill="#111" text-anchor="middle" stroke="none">MZ</text>
<text x="154.6" y="368.5" font-size="8.4" font-weight="bold" fill="#111" text-anchor="middle" stroke="none">VZ</text>
<text x="177.4" y="365.5" font-size="8.4" font-weight="bold" fill="#111" text-anchor="middle" stroke="none">SVZ</text>
<text x="296.2" y="375.5" font-size="8.4" font-weight="bold" fill="#111" text-anchor="middle" stroke="none">LGE</text>
<text x="360.6" y="358" font-size="8.4" font-weight="bold" fill="#111" text-anchor="middle" stroke="none">Putamen</text>
<text x="349.4" y="393" font-size="8.4" font-weight="bold" fill="#111" text-anchor="middle" stroke="none">MGE</text>
<text x="386.2" y="381" font-size="8.4" font-weight="bold" fill="#111" text-anchor="middle" stroke="none">LGE</text>
<text x="431" y="416.3" font-size="8.4" font-weight="bold" fill="#111" text-anchor="middle" stroke="none">RMS</text>
<path d="M165.3,326.2L162.7,331.3M162.7,331.3l-0.4,-2.4M162.7,331.3l2,-1.3" stroke="#111" stroke-width="0.7" fill="none"/>
<path d="M151.6,370.2L149.8,375.2M149.8,375.2l-0.3,-2.3M149.8,375.2l1.9,-1.4" stroke="#111" stroke-width="0.7" fill="none"/>
<path d="M430.5,404.5L429.2,398.3M429.2,398.3l-1.2,2M429.2,398.3l1.9,1.4" stroke="#111" stroke-width="0.7" fill="none"/>
<text x="486.4" y="330.1" font-size="10" font-weight="bold" fill="#111" text-anchor="middle">SGSE Score</text>
<rect x="479.8" y="334.3" width="7.2" height="8.21" fill="#d7262b"/>
<rect x="479.8" y="342.21" width="7.2" height="8.21" fill="#ee4433"/>
<rect x="479.8" y="350.12" width="7.2" height="8.21" fill="#f4694a"/>
<rect x="479.8" y="358.03" width="7.2" height="8.21" fill="#fb9272"/>
<rect x="479.8" y="365.94" width="7.2" height="8.21" fill="#fdc9b2"/>
<rect x="479.8" y="373.85" width="7.2" height="8.21" fill="#ffffff"/>
<rect x="479.8" y="381.75" width="7.2" height="8.21" fill="#eef1fa"/>
<rect x="479.8" y="389.66" width="7.2" height="8.21" fill="#c6d6ec"/>
<rect x="479.8" y="397.57" width="7.2" height="8.21" fill="#9fc3dd"/>
<rect x="479.8" y="405.48" width="7.2" height="8.21" fill="#62a3d0"/>
<rect x="479.8" y="413.39" width="7.2" height="8.21" fill="#2f78b7"/>
<rect x="479.8" y="334.3" width="7.2" height="87.2" fill="none" stroke="#111" stroke-width="0.9"/>
<text x="490.3" y="342.9" font-size="9.5" fill="#111">2.0</text>
<text x="490.3" y="382.8" font-size="9.5" fill="#111">1.0</text>
<text x="490.3" y="422.7" font-size="9.5" fill="#111">0.0</text>
</g>
<g id="panelD" font-family="'Liberation Sans', Arial, sans-serif" stroke-linejoin="miter">
<text x="16.6" y="475.2" font-size="19.6" font-weight="bold" fill="#111">(D)</text>
<path d="M97.5,541.25L125,547.5M125,547.5L127.5,535.5M125,547.5L138.75,570.5M138.75,570.5L181,572.5M138.75,570.5L98.75,592.5M98.75,592.5L93.75,588.75M98.75,592.5L83,622M181,572.5L190.8,550.3M190.8,550.3L189.2,538.8M190.8,550.3L204.7,544.5M216.25,586.25L248.75,599.5M248.75,599.5L288.75,589.5M288.75,589.5L332.5,582.5M288.75,589.5L292.5,595M248.75,599.5L238.75,623.75M238.75,623.75L193.75,660M193.75,660L176.25,680M167.5,653.75L193.75,660M176.25,680L147.5,677.5M176.25,680L189.3,701.7M147.5,677.5L127.5,661.25M147.5,677.5L122.5,700M189.3,701.7L178.3,711.7M189.3,701.7L206,713M238.75,623.75L280,668.75M280,668.75L305,678.75M280,668.75L280,697.5M332.5,582.5L346.25,557.5M332.5,582.5L370,596.25M346.25,557.5L326.25,544.25M346.25,557.5L401.75,521.25M326.25,544.25L309.5,548.75M326.25,544.25L323.25,516.25M323.25,516.25L340,503.75M323.25,516.25L285,503.25M285,503.25L268.75,492.5M285,503.25L293.75,495M401.75,521.25L405.5,511.25M401.75,521.25L436.75,519.5M370,596.25L442.25,606.25M370,596.25L380,626.25M380,626.25L414.25,676.25M442.25,606.25L458,591.25M442.25,606.25L458,617.5M414.25,676.25L440.5,692.5M414.25,676.25L408,688" fill="none" stroke="#c2c2c2" stroke-width="1.6" stroke-linecap="round"/>
<path d="M95,524L87.62,536.77L72.88,536.77L65.5,524L72.88,511.23L87.62,511.23Z" fill="#c9c9c9" stroke="#1a1a1a" stroke-width="1.0"/><path d="M90.5,524L85.38,532.88L75.12,532.88L70,524L75.12,515.12L85.38,515.12Z" fill="#c9c9c9" stroke="#1a1a1a" stroke-width="1.0"/><path d="M87.3,524L83.78,530.11L76.73,530.11L73.2,524L76.72,517.89L83.78,517.89Z" fill="#d0d0d0" stroke="#1a1a1a" stroke-width="1.6"/>
<path d="M146.25,515.5L138.75,528.49L123.75,528.49L116.25,515.5L123.75,502.51L138.75,502.51Z" fill="#c9c9c9" stroke="#1a1a1a" stroke-width="1.0"/><path d="M140.45,515.5L135.85,523.47L126.65,523.47L122.05,515.5L126.65,507.53L135.85,507.53Z" fill="#c9c9c9" stroke="#1a1a1a" stroke-width="1.0"/><path d="M137.85,515.5L134.55,521.22L127.95,521.22L124.65,515.5L127.95,509.78L134.55,509.78Z" fill="#d0d0d0" stroke="#1a1a1a" stroke-width="1.6"/>
<path d="M94.6,580L84.8,596.97L65.2,596.97L55.4,580L65.2,563.03L84.8,563.03Z" fill="#c9c9c9" stroke="#1a1a1a" stroke-width="1.0"/><path d="M87.5,580L81.25,590.83L68.75,590.83L62.5,580L68.75,569.17L81.25,569.17Z" fill="#c9c9c9" stroke="#1a1a1a" stroke-width="1.0"/><path d="M82,580L78.5,586.06L71.5,586.06L68,580L71.5,573.94L78.5,573.94Z" fill="#c9c9c9" stroke="#1a1a1a" stroke-width="1.0"/><path d="M80,580L77.5,584.33L72.5,584.33L70,580L72.5,575.67L77.5,575.67Z" fill="#d2d2d2" stroke="#1a1a1a" stroke-width="1.0"/>
<path d="M212.6,511.9L197.85,537.45L168.35,537.45L153.6,511.9L168.35,486.35L197.85,486.35Z" fill="#c9c9c9" stroke="#1a1a1a" stroke-width="1.0"/><path d="M205.6,511.9L194.35,531.39L171.85,531.39L160.6,511.9L171.85,492.41L194.35,492.41Z" fill="#c9c9c9" stroke="#1a1a1a" stroke-width="1.0"/><path d="M198.2,511.9L190.65,524.98L175.55,524.98L168,511.9L175.55,498.82L190.65,498.82Z" fill="#c9c9c9" stroke="#1a1a1a" stroke-width="1.0"/><path d="M194.5,511.9L188.8,521.77L177.4,521.77L171.7,511.9L177.4,502.03L188.8,502.03Z" fill="#d2d2d2" stroke="#1a1a1a" stroke-width="1.0"/>
<path d="M249.4,537.2L237.65,557.55L214.15,557.55L202.4,537.2L214.15,516.85L237.65,516.85Z" fill="#c9c9c9" stroke="#1a1a1a" stroke-width="1.0"/><path d="M240.9,537.2L233.4,550.19L218.4,550.19L210.9,537.2L218.4,524.21L233.4,524.21Z" fill="#c9c9c9" stroke="#1a1a1a" stroke-width="1.0"/><path d="M236.4,537.2L231.15,546.29L220.65,546.29L215.4,537.2L220.65,528.11L231.15,528.11Z" fill="#c9c9c9" stroke="#1a1a1a" stroke-width="1.0"/><path d="M234.4,537.2L230.15,544.56L221.65,544.56L217.4,537.2L221.65,529.84L230.15,529.84Z" fill="#d2d2d2" stroke="#1a1a1a" stroke-width="1.0"/>
<path d="M272,484.75L263.38,499.69L246.12,499.69L237.5,484.75L246.12,469.81L263.38,469.81Z" fill="#f2e61e" stroke="#1a1a1a" stroke-width="1.0"/><path d="M263.5,484.75L259.12,492.33L250.38,492.33L246,484.75L250.38,477.17L259.12,477.17Z" fill="#c9c9c9" stroke="#1a1a1a" stroke-width="1.0"/><path d="M259.35,484.75L257.05,488.73L252.45,488.73L250.15,484.75L252.45,480.77L257.05,480.77Z" fill="#c9c9c9" stroke="#1a1a1a" stroke-width="1.0"/><path d="M257.75,484.75L256.25,487.35L253.25,487.35L251.75,484.75L253.25,482.15L256.25,482.15Z" fill="#d2d2d2" stroke="#1a1a1a" stroke-width="1.0"/>
<path d="M319.5,482.5L311.5,496.36L295.5,496.36L287.5,482.5L295.5,468.64L311.5,468.64Z" fill="#850f0f" stroke="#1a1a1a" stroke-width="1.0"/><path d="M311.4,482.5L307.45,489.34L299.55,489.34L295.6,482.5L299.55,475.66L307.45,475.66Z" fill="#c9c9c9" stroke="#1a1a1a" stroke-width="1.0"/><path d="M308.1,482.5L305.8,486.48L301.2,486.48L298.9,482.5L301.2,478.52L305.8,478.52Z" fill="#c9c9c9" stroke="#1a1a1a" stroke-width="1.0"/><path d="M306.5,482.5L305,485.1L302,485.1L300.5,482.5L302,479.9L305,479.9Z" fill="#d2d2d2" stroke="#1a1a1a" stroke-width="1.0"/>
<path d="M366.2,495.4L358.9,508.04L344.3,508.04L337,495.4L344.3,482.76L358.9,482.76Z" fill="#c9c9c9" stroke="#1a1a1a" stroke-width="1.0"/><path d="M360.7,495.4L356.15,503.28L347.05,503.28L342.5,495.4L347.05,487.52L356.15,487.52Z" fill="#c9c9c9" stroke="#1a1a1a" stroke-width="1.0"/><path d="M357.45,495.4L354.53,500.47L348.68,500.47L345.75,495.4L348.68,490.33L354.53,490.33Z" fill="#c9c9c9" stroke="#1a1a1a" stroke-width="1.0"/><path d="M355.6,495.4L353.6,498.86L349.6,498.86L347.6,495.4L349.6,491.94L353.6,491.94Z" fill="#d2d2d2" stroke="#1a1a1a" stroke-width="1.0"/>
<path d="M309.5,552L298.38,571.27L276.12,571.27L265,552L276.12,532.73L298.38,532.73Z" fill="#c9c9c9" stroke="#1a1a1a" stroke-width="1.0"/><path d="M300,552L293.62,563.04L280.88,563.04L274.5,552L280.88,540.96L293.62,540.96Z" fill="#c9c9c9" stroke="#1a1a1a" stroke-width="1.0"/><path d="M296.25,552L291.75,559.79L282.75,559.79L278.25,552L282.75,544.21L291.75,544.21Z" fill="#c9c9c9" stroke="#1a1a1a" stroke-width="1.0"/><path d="M294.25,552L290.75,558.06L283.75,558.06L280.25,552L283.75,545.94L290.75,545.94Z" fill="#d2d2d2" stroke="#1a1a1a" stroke-width="1.0"/>
<path d="M438.5,484.4L427.12,504.1L404.38,504.1L393,484.4L404.38,464.7L427.12,464.7Z" fill="#850f0f" stroke="#1a1a1a" stroke-width="1.0"/><path d="M429.5,484.4L422.62,496.31L408.88,496.31L402,484.4L408.88,472.49L422.62,472.49Z" fill="#c9c9c9" stroke="#1a1a1a" stroke-width="1.0"/><path d="M423.75,484.4L419.75,491.33L411.75,491.33L407.75,484.4L411.75,477.47L419.75,477.47Z" fill="#c9c9c9" stroke="#1a1a1a" stroke-width="1.0"/><path d="M421.75,484.4L418.75,489.6L412.75,489.6L409.75,484.4L412.75,479.2L418.75,479.2Z" fill="#d2d2d2" stroke="#1a1a1a" stroke-width="1.0"/>
<path d="M479.2,513.75L468.4,532.46L446.8,532.46L436,513.75L446.8,495.04L468.4,495.04Z" fill="#850f0f" stroke="#1a1a1a" stroke-width="1.0"/><path d="M470.1,513.75L463.85,524.58L451.35,524.58L445.1,513.75L451.35,502.92L463.85,502.92Z" fill="#c9c9c9" stroke="#1a1a1a" stroke-width="1.0"/><path d="M464.7,513.75L461.15,519.9L454.05,519.9L450.5,513.75L454.05,507.6L461.15,507.6Z" fill="#c9c9c9" stroke="#1a1a1a" stroke-width="1.0"/><path d="M463.1,513.75L460.35,518.51L454.85,518.51L452.1,513.75L454.85,508.99L460.35,508.99Z" fill="#d2d2d2" stroke="#1a1a1a" stroke-width="1.0"/>
<path d="M501,574.65L488.5,596.3L463.5,596.3L451,574.65L463.5,553L488.5,553Z" fill="#c9c9c9" stroke="#1a1a1a" stroke-width="1.0"/><path d="M494,574.65L485,590.24L467,590.24L458,574.65L467,559.06L485,559.06Z" fill="#c9c9c9" stroke="#1a1a1a" stroke-width="1.0"/><path d="M488.5,574.65L482.25,585.48L469.75,585.48L463.5,574.65L469.75,563.82L482.25,563.82Z" fill="#c9c9c9" stroke="#1a1a1a" stroke-width="1.0"/><path d="M485.25,574.65L480.62,582.66L471.38,582.66L466.75,574.65L471.38,566.64L480.62,566.64Z" fill="#d2d2d2" stroke="#1a1a1a" stroke-width="1.0"/>
<path d="M224.5,604.1L213.05,623.93L190.15,623.93L178.7,604.1L190.15,584.27L213.05,584.27Z" fill="#c9c9c9" stroke="#1a1a1a" stroke-width="1.0"/><path d="M216.5,604.1L209.05,617L194.15,617L186.7,604.1L194.15,591.2L209.05,591.2Z" fill="#c9c9c9" stroke="#1a1a1a" stroke-width="1.0"/><path d="M212,604.1L206.8,613.11L196.4,613.11L191.2,604.1L196.4,595.09L206.8,595.09Z" fill="#c9c9c9" stroke="#1a1a1a" stroke-width="1.0"/><path d="M208.7,604.1L205.15,610.25L198.05,610.25L194.5,604.1L198.05,597.95L205.15,597.95Z" fill="#d2d2d2" stroke="#1a1a1a" stroke-width="1.0"/>
<path d="M323.8,619.25L314.1,636.05L294.7,636.05L285,619.25L294.7,602.45L314.1,602.45Z" fill="#c9c9c9" stroke="#1a1a1a" stroke-width="1.0"/><path d="M317.5,619.25L310.95,630.59L297.85,630.59L291.3,619.25L297.85,607.91L310.95,607.91Z" fill="#c9c9c9" stroke="#1a1a1a" stroke-width="1.0"/><path d="M314.8,619.25L309.6,628.26L299.2,628.26L294,619.25L299.2,610.24L309.6,610.24Z" fill="#d0d0d0" stroke="#1a1a1a" stroke-width="1.6"/>
<path d="M95,640.4L86.75,654.69L70.25,654.69L62,640.4L70.25,626.11L86.75,626.11Z" fill="#c9c9c9" stroke="#1a1a1a" stroke-width="1.0"/><path d="M89.5,640.4L84,649.93L73,649.93L67.5,640.4L73,630.87L84,630.87Z" fill="#c9c9c9" stroke="#1a1a1a" stroke-width="1.0"/><path d="M85.75,640.4L82.12,646.68L74.88,646.68L71.25,640.4L74.88,634.12L82.12,634.12Z" fill="#c9c9c9" stroke="#1a1a1a" stroke-width="1.0"/><path d="M83.75,640.4L81.12,644.95L75.88,644.95L73.25,640.4L75.88,635.85L81.12,635.85Z" fill="#d2d2d2" stroke="#1a1a1a" stroke-width="1.0"/>
<path d="M130.5,655.25L123.38,667.59L109.12,667.59L102,655.25L109.12,642.91L123.38,642.91Z" fill="#c9c9c9" stroke="#1a1a1a" stroke-width="1.0"/><path d="M126.25,655.25L121.25,663.91L111.25,663.91L106.25,655.25L111.25,646.59L121.25,646.59Z" fill="#c9c9c9" stroke="#1a1a1a" stroke-width="1.0"/><path d="M123.05,655.25L119.65,661.14L112.85,661.14L109.45,655.25L112.85,649.36L119.65,649.36Z" fill="#d0d0d0" stroke="#1a1a1a" stroke-width="1.6"/>
<path d="M179.5,641L169.3,658.67L148.9,658.67L138.7,641L148.9,623.33L169.3,623.33Z" fill="#c9c9c9" stroke="#1a1a1a" stroke-width="1.0"/><path d="M172.5,641L165.8,652.6L152.4,652.6L145.7,641L152.4,629.4L165.8,629.4Z" fill="#c9c9c9" stroke="#1a1a1a" stroke-width="1.0"/><path d="M169.5,641L164.3,650.01L153.9,650.01L148.7,641L153.9,631.99L164.3,631.99Z" fill="#c9c9c9" stroke="#1a1a1a" stroke-width="1.0"/><path d="M167,641L163.05,647.84L155.15,647.84L151.2,641L155.15,634.16L163.05,634.16Z" fill="#d2d2d2" stroke="#1a1a1a" stroke-width="1.0"/>
<path d="M248,667.75L239.62,682.26L222.88,682.26L214.5,667.75L222.88,653.24L239.62,653.24Z" fill="#c9c9c9" stroke="#1a1a1a" stroke-width="1.0"/><path d="M243,667.75L237.12,677.93L225.38,677.93L219.5,667.75L225.38,657.57L237.12,657.57Z" fill="#c9c9c9" stroke="#1a1a1a" stroke-width="1.0"/><path d="M239.8,667.75L235.53,675.15L226.97,675.15L222.7,667.75L226.97,660.35L235.53,660.35Z" fill="#d0d0d0" stroke="#1a1a1a" stroke-width="1.6"/>
<path d="M389.5,650L378.7,668.71L357.1,668.71L346.3,650L357.1,631.29L378.7,631.29Z" fill="#c9c9c9" stroke="#1a1a1a" stroke-width="1.0"/><path d="M382.5,650L375.2,662.64L360.6,662.64L353.3,650L360.6,637.36L375.2,637.36Z" fill="#c9c9c9" stroke="#1a1a1a" stroke-width="1.0"/><path d="M378.3,650L373.1,659.01L362.7,659.01L357.5,650L362.7,640.99L373.1,640.99Z" fill="#c9c9c9" stroke="#1a1a1a" stroke-width="1.0"/><path d="M375.8,650L371.85,656.84L363.95,656.84L360,650L363.95,643.16L371.85,643.16Z" fill="#d2d2d2" stroke="#1a1a1a" stroke-width="1.0"/>
<path d="M342,685.25L332.3,702.05L312.9,702.05L303.2,685.25L312.9,668.45L332.3,668.45Z" fill="#c9c9c9" stroke="#1a1a1a" stroke-width="1.0"/><path d="M335.2,685.25L328.9,696.16L316.3,696.16L310,685.25L316.3,674.34L328.9,674.34Z" fill="#c9c9c9" stroke="#1a1a1a" stroke-width="1.0"/><path d="M331.5,685.25L327.05,692.96L318.15,692.96L313.7,685.25L318.15,677.54L327.05,677.54Z" fill="#c9c9c9" stroke="#1a1a1a" stroke-width="1.0"/><path d="M329.5,685.25L326.05,691.23L319.15,691.23L315.7,685.25L319.15,679.27L326.05,679.27Z" fill="#d2d2d2" stroke="#1a1a1a" stroke-width="1.0"/>
<path d="M501.75,640.6L488.62,663.33L462.38,663.33L449.25,640.6L462.38,617.87L488.62,617.87Z" fill="#c9c9c9" stroke="#1a1a1a" stroke-width="1.0"/><path d="M494.25,640.6L484.88,656.84L466.12,656.84L456.75,640.6L466.12,624.36L484.88,624.36Z" fill="#c9c9c9" stroke="#1a1a1a" stroke-width="1.0"/><path d="M488.5,640.6L482,651.86L469,651.86L462.5,640.6L469,629.34L482,629.34Z" fill="#c9c9c9" stroke="#1a1a1a" stroke-width="1.0"/><path d="M485.5,640.6L480.5,649.26L470.5,649.26L465.5,640.6L470.5,631.94L480.5,631.94Z" fill="#d2d2d2" stroke="#1a1a1a" stroke-width="1.0"/>
<path d="M126.6,711L118.45,725.12L102.15,725.12L94,711L102.15,696.88L118.45,696.88Z" fill="#c9c9c9" stroke="#1a1a1a" stroke-width="1.0"/><path d="M120.6,711L115.45,719.92L105.15,719.92L100,711L105.15,702.08L115.45,702.08Z" fill="#c9c9c9" stroke="#1a1a1a" stroke-width="1.0"/><path d="M117.1,711L113.7,716.89L106.9,716.89L103.5,711L106.9,705.11L113.7,705.11Z" fill="#d0d0d0" stroke="#1a1a1a" stroke-width="1.6"/>
<path d="M180,719.3L173.5,730.56L160.5,730.56L154,719.3L160.5,708.04L173.5,708.04Z" fill="#850f0f" stroke="#1a1a1a" stroke-width="1.0"/><path d="M175.5,719.3L171.25,726.66L162.75,726.66L158.5,719.3L162.75,711.94L171.25,711.94Z" fill="#c9c9c9" stroke="#1a1a1a" stroke-width="1.0"/><path d="M173,719.3L170,724.5L164,724.5L161,719.3L164,714.1L170,714.1Z" fill="#c9c9c9" stroke="#1a1a1a" stroke-width="1.0"/><path d="M171,719.3L169,722.76L165,722.76L163,719.3L165,715.84L169,715.84Z" fill="#d2d2d2" stroke="#1a1a1a" stroke-width="1.0"/>
<path d="M225,718L219.4,727.7L208.2,727.7L202.6,718L208.2,708.3L219.4,708.3Z" fill="#c9c9c9" stroke="#1a1a1a" stroke-width="1.0"/><path d="M221.3,718L217.55,724.5L210.05,724.5L206.3,718L210.05,711.5L217.55,711.5Z" fill="#c9c9c9" stroke="#1a1a1a" stroke-width="1.0"/><path d="M219.1,718L216.45,722.59L211.15,722.59L208.5,718L211.15,713.41L216.45,713.41Z" fill="#d0d0d0" stroke="#1a1a1a" stroke-width="1.6"/>
<path d="M295.5,713.4L286.5,728.99L268.5,728.99L259.5,713.4L268.5,697.81L286.5,697.81Z" fill="#c9c9c9" stroke="#1a1a1a" stroke-width="1.0"/><path d="M289.25,713.4L283.38,723.58L271.62,723.58L265.75,713.4L271.62,703.22L283.38,703.22Z" fill="#c9c9c9" stroke="#1a1a1a" stroke-width="1.0"/><path d="M286.75,713.4L282.12,721.41L272.88,721.41L268.25,713.4L272.88,705.39L282.12,705.39Z" fill="#c9c9c9" stroke="#1a1a1a" stroke-width="1.0"/><path d="M284.5,713.4L281,719.46L274,719.46L270.5,713.4L274,707.34L281,707.34Z" fill="#d2d2d2" stroke="#1a1a1a" stroke-width="1.0"/>
<path d="M416.7,718.4L404.8,739.01L381,739.01L369.1,718.4L381,697.79L404.8,697.79Z" fill="#c9c9c9" stroke="#1a1a1a" stroke-width="1.0"/><path d="M408.8,718.4L400.85,732.17L384.95,732.17L377,718.4L384.95,704.63L400.85,704.63Z" fill="#c9c9c9" stroke="#1a1a1a" stroke-width="1.0"/><path d="M402.5,718.4L397.7,726.71L388.1,726.71L383.3,718.4L388.1,710.09L397.7,710.09Z" fill="#c9c9c9" stroke="#1a1a1a" stroke-width="1.0"/><path d="M400,718.4L396.45,724.55L389.35,724.55L385.8,718.4L389.35,712.25L396.45,712.25Z" fill="#d2d2d2" stroke="#1a1a1a" stroke-width="1.0"/>
<path d="M484.6,705.25L472.1,726.9L447.1,726.9L434.6,705.25L447.1,683.6L472.1,683.6Z" fill="#c9c9c9" stroke="#1a1a1a" stroke-width="1.0"/><path d="M476,705.25L467.8,719.45L451.4,719.45L443.2,705.25L451.4,691.05L467.8,691.05Z" fill="#c9c9c9" stroke="#1a1a1a" stroke-width="1.0"/><path d="M468,705.25L463.8,712.52L455.4,712.52L451.2,705.25L455.4,697.98L463.8,697.98Z" fill="#c9c9c9" stroke="#1a1a1a" stroke-width="1.0"/><path d="M465.5,705.25L462.55,710.36L456.65,710.36L453.7,705.25L456.65,700.14L462.55,700.14Z" fill="#d2d2d2" stroke="#1a1a1a" stroke-width="1.0"/>
<g font-size="6.5" fill="#111" stroke="#111" stroke-width="0.24" text-anchor="middle">
<text x="80.25" y="502.7">Stellate &amp;</text>
<text x="80.25" y="510">Basket Neurons</text>
<text x="80.25" y="543">Cerebellum</text>
<text x="131.25" y="493.1">Unipolar &amp;</text>
<text x="131.25" y="500.8">Bergmann Glia</text>
<text x="131.25" y="534.8">Cerebellum</text>
<text x="75" y="560.5">Granule Neurons</text>
<text x="75" y="603.5">Cerebellum</text>
<text x="183.1" y="481.7">Cones</text>
<text x="183.1" y="546">Retina</text>
<text x="225.9" y="513.5">Rods</text>
<text x="225.9" y="566">Retina</text>
<text x="254.75" y="460.3">Layer 5b</text>
<text x="254.75" y="467.8">Neurons</text>
<text x="254.75" y="506.8">Cortex</text>
<text x="303.5" y="459.6">Layer 6</text>
<text x="303.5" y="466.9">Neurons</text>
<text x="303.5" y="503.5">Cortex</text>
<text x="351.6" y="474.2">Cort+</text>
<text x="351.6" y="481.7">Neurons</text>
<text x="351.6" y="514.2">Cortex</text>
<text x="287.25" y="522.8">Layer 5A &amp;</text>
<text x="287.25" y="530">Immune Cells</text>
<text x="287.25" y="579">Cortex</text>
<text x="415.75" y="454.1">D1+ Spiny</text>
<text x="415.75" y="461.5">Neurons</text>
<text x="415.75" y="511.7">Striatum</text>
<text x="457.6" y="485.2">D2+ Spiny</text>
<text x="457.6" y="492.7">Neurons</text>
<text x="457.6" y="539.7">Striatum</text>
<text x="476" y="549.2">Oligodendrocytes</text>
<text x="476" y="604.2">Cortex</text>
<text x="201.6" y="574">Oligodendrocyte</text>
<text x="201.6" y="581.5">Progenitors</text>
<text x="201.6" y="632.2">Cortex</text>
<text x="304.4" y="599.7">Purkinje Neurons</text>
<text x="304.4" y="644">Cerebellum</text>
<text x="78.5" y="619.7">Golgi Neurons</text>
<text x="78.5" y="661.7">Cerebellum</text>
<text x="116.25" y="634.2">Cholinergic</text>
<text x="116.25" y="641.5">Neurons</text>
<text x="116.25" y="674">Basal Forebrain</text>
<text x="159.1" y="613.5">Cholinergic</text>
<text x="159.1" y="621">Neurons</text>
<text x="159.1" y="665.5">Habenula</text>
<text x="231.25" y="644.2">Hypocretinergic</text>
<text x="231.25" y="651.7">Neurons</text>
<text x="231.25" y="687.7">Hypothalamus</text>
<text x="367.9" y="627.7">Astrocytes</text>
<text x="367.9" y="676">Cortex</text>
<text x="322.6" y="659.2">Cholinergic</text>
<text x="322.6" y="666.7">Motor Neurons</text>
<text x="322.6" y="708.5">Spinal cord</text>
<text x="475.5" y="613.5">Oligodendrocytes</text>
<text x="475.5" y="671.5">Cerebellum</text>
<text x="110.3" y="688">Cholinergic</text>
<text x="110.3" y="695.2">Neurons</text>
<text x="110.3" y="731.5">Striatum</text>
<text x="167" y="699">Pnoc+</text>
<text x="167" y="706.5">Neurons</text>
<text x="167" y="735.5">Cortex</text>
<text x="213.8" y="699.5">Serotonergic</text>
<text x="213.8" y="707.2">Neurons</text>
<text x="213.8" y="734.5">Brain stem</text>
<text x="277.5" y="688.5">Cholinergic</text>
<text x="277.5" y="695.5">Motor Neurons</text>
<text x="277.5" y="736">Brain stem</text>
<text x="392.9" y="687.7">Bergmann Glia &amp;</text>
<text x="392.9" y="695.2">Oligodendrocytes</text>
<text x="392.9" y="746.7">Cerebellum</text>
<text x="459.6" y="679.7">Astrocytes</text>
<text x="459.6" y="736">Cerebellum</text>
</g>
<rect x="526.3" y="481.3" width="64.6" height="237" fill="#fff" stroke="#111" stroke-width="1.9"/>
<text x="562" y="493.8" font-size="7.8" font-weight="bold" fill="#111" text-anchor="middle"><tspan font-style="italic">p</tspan>-value</text>
<defs><linearGradient id="pg" x1="0" x2="0" y1="0" y2="1"><stop offset="0" stop-color="#faf21e"/><stop offset="0.25" stop-color="#fbc316"/><stop offset="0.5" stop-color="#fa9410"/><stop offset="0.75" stop-color="#f5620e"/><stop offset="0.88" stop-color="#ea3c0c"/><stop offset="0.94" stop-color="#b8160a"/><stop offset="1" stop-color="#6a0606"/></linearGradient></defs>
<rect x="557.2" y="506.2" width="7.3" height="84.2" fill="url(#pg)" stroke="#111" stroke-width="0.8"/>
<rect x="553.6" y="505.95" width="3.6" height="0.9" fill="#111"/>
<text x="553.2" y="509" font-size="7.2" font-weight="bold" fill="#111" text-anchor="end">0.100</text>
<rect x="553.6" y="526.9" width="3.6" height="0.9" fill="#111"/>
<text x="553.2" y="529.95" font-size="7.2" font-weight="bold" fill="#111" text-anchor="end">0.075</text>
<rect x="553.6" y="547.85" width="3.6" height="0.9" fill="#111"/>
<text x="553.2" y="550.9" font-size="7.2" font-weight="bold" fill="#111" text-anchor="end">0.050</text>
<rect x="553.6" y="568.8" width="3.6" height="0.9" fill="#111"/>
<text x="553.2" y="571.85" font-size="7.2" font-weight="bold" fill="#111" text-anchor="end">0.025</text>
<rect x="553.6" y="589.75" width="3.6" height="0.9" fill="#111"/>
<text x="553.2" y="592.8" font-size="7.2" font-weight="bold" fill="#111" text-anchor="end">0.000</text>
<text x="558.2" y="607.8" font-size="8.55" font-weight="bold" fill="#111" text-anchor="middle"><tspan font-style="italic">pSI</tspan> Threshold</text>
<path d="M557,623.9L550.1,635.85L536.3,635.85L529.4,623.9L536.3,611.95L550.1,611.95Z" fill="#850f0f" stroke="#1a1a1a" stroke-width="0.8"/>
<path d="M552.3,623.9L547.75,631.78L538.65,631.78L534.1,623.9L538.65,616.02L547.75,616.02Z" fill="#d4d4d4" stroke="#1a1a1a" stroke-width="0.8"/>
<path d="M548.3,623.9L545.75,628.32L540.65,628.32L538.1,623.9L540.65,619.48L545.75,619.48Z" fill="#d4d4d4" stroke="#1a1a1a" stroke-width="0.8"/>
<path d="M546.2,623.9L544.7,626.5L541.7,626.5L540.2,623.9L541.7,621.3L544.7,621.3Z" fill="#d4d4d4" stroke="#1a1a1a" stroke-width="0.8"/>
<text x="573.8" y="626.9" font-size="8.3" fill="#111" text-anchor="middle">0.05</text>
<path d="M557,649.4L550.1,661.35L536.3,661.35L529.4,649.4L536.3,637.45L550.1,637.45Z" fill="#d4d4d4" stroke="#1a1a1a" stroke-width="0.8"/>
<path d="M552.3,649.4L547.75,657.28L538.65,657.28L534.1,649.4L538.65,641.52L547.75,641.52Z" fill="#850f0f" stroke="#1a1a1a" stroke-width="0.8"/>
<path d="M548.3,649.4L545.75,653.82L540.65,653.82L538.1,649.4L540.65,644.98L545.75,644.98Z" fill="#d4d4d4" stroke="#1a1a1a" stroke-width="0.8"/>
<path d="M546.2,649.4L544.7,652L541.7,652L540.2,649.4L541.7,646.8L544.7,646.8Z" fill="#d4d4d4" stroke="#1a1a1a" stroke-width="0.8"/>
<text x="573.8" y="652.4" font-size="8.3" fill="#111" text-anchor="middle">0.01</text>
<path d="M557,675.2L550.1,687.15L536.3,687.15L529.4,675.2L536.3,663.25L550.1,663.25Z" fill="#d4d4d4" stroke="#1a1a1a" stroke-width="0.8"/>
<path d="M552.3,675.2L547.75,683.08L538.65,683.08L534.1,675.2L538.65,667.32L547.75,667.32Z" fill="#d4d4d4" stroke="#1a1a1a" stroke-width="0.8"/>
<path d="M548.3,675.2L545.75,679.62L540.65,679.62L538.1,675.2L540.65,670.78L545.75,670.78Z" fill="#850f0f" stroke="#1a1a1a" stroke-width="0.8"/>
<path d="M546.2,675.2L544.7,677.8L541.7,677.8L540.2,675.2L541.7,672.6L544.7,672.6Z" fill="#d4d4d4" stroke="#1a1a1a" stroke-width="0.8"/>
<text x="573.8" y="678.2" font-size="8.3" fill="#111" text-anchor="middle">0.001</text>
<path d="M557,701.3L550.1,713.25L536.3,713.25L529.4,701.3L536.3,689.35L550.1,689.35Z" fill="#d4d4d4" stroke="#1a1a1a" stroke-width="0.8"/>
<path d="M552.3,701.3L547.75,709.18L538.65,709.18L534.1,701.3L538.65,693.42L547.75,693.42Z" fill="#d4d4d4" stroke="#1a1a1a" stroke-width="0.8"/>
<path d="M548.3,701.3L545.75,705.72L540.65,705.72L538.1,701.3L540.65,696.88L545.75,696.88Z" fill="#d4d4d4" stroke="#1a1a1a" stroke-width="0.8"/>
<path d="M546.2,701.3L544.7,703.9L541.7,703.9L540.2,701.3L541.7,698.7L544.7,698.7Z" fill="#850f0f" stroke="#1a1a1a" stroke-width="0.8"/>
<text x="573.8" y="704.3" font-size="8.3" fill="#111" text-anchor="middle">0.0001</text>
</g>
</svg>
</body></html>
